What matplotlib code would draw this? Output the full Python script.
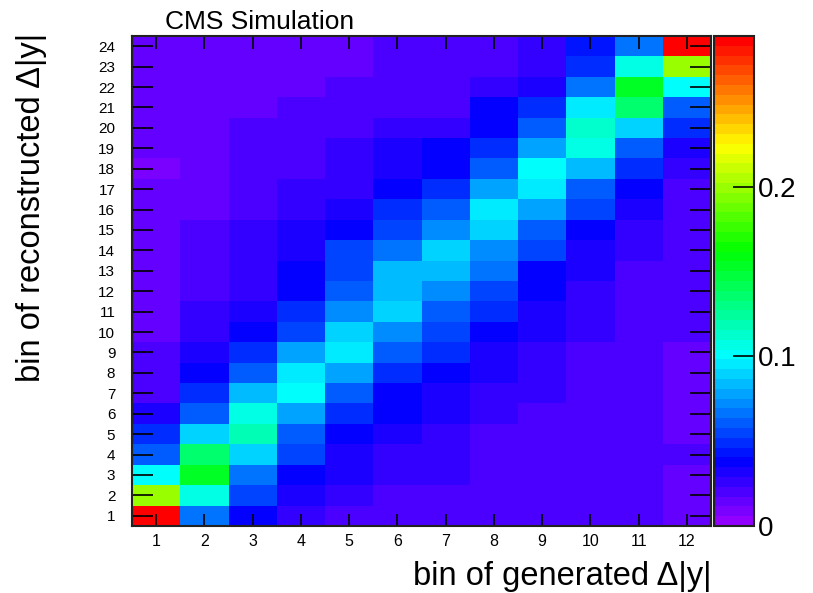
import colorsys
import numpy as np
import matplotlib
matplotlib.use("Agg")
import matplotlib.pyplot as plt
from matplotlib.colors import ListedColormap, Normalize

plt.rcParams['font.family'] = ['Liberation Sans', 'DejaVu Sans']

gen_bins = list(range(1, 13))
reco_bins = list(range(1, 25))
z_max = 0.289
cbar_ticks = [0.0, 0.1, 0.2]
cbar_labels = ["0", "0.1", "0.2"]

# Migration matrix values, one list per generated bin (column), reco bins 1..24
col1 = [0.289, 0.199, 0.100, 0.062, 0.047, 0.030, 0.023, 0.019, 0.018, 0.015, 0.0136, 0.0136,
        0.0136, 0.0136, 0.0136, 0.0136, 0.0136, 0.0095, 0.0136, 0.0136, 0.0136, 0.0136, 0.0136, 0.0136]
col2 = [0.069, 0.109, 0.154, 0.137, 0.088, 0.062, 0.047, 0.038, 0.030, 0.026, 0.026, 0.023,
        0.022, 0.022, 0.022, 0.016, 0.015, 0.015, 0.015, 0.014, 0.0136, 0.0136, 0.0136, 0.0136]
col3 = [0.038, 0.054, 0.069, 0.088, 0.121, 0.109, 0.083, 0.058, 0.047, 0.038, 0.030, 0.026,
        0.026, 0.026, 0.026, 0.023, 0.022, 0.020, 0.020, 0.019, 0.015, 0.014, 0.014, 0.014]
col4 = [0.026, 0.030, 0.038, 0.054, 0.062, 0.078, 0.100, 0.094, 0.078, 0.054, 0.047, 0.038,
        0.038, 0.030, 0.030, 0.026, 0.026, 0.022, 0.022, 0.019, 0.019, 0.015, 0.014, 0.014]
col5 = [0.023, 0.026, 0.030, 0.030, 0.038, 0.050, 0.062, 0.078, 0.094, 0.088, 0.073, 0.062,
        0.054, 0.054, 0.038, 0.030, 0.028, 0.026, 0.026, 0.023, 0.020, 0.019, 0.015, 0.015]
col6 = [0.020, 0.022, 0.026, 0.027, 0.030, 0.038, 0.038, 0.050, 0.062, 0.073, 0.088, 0.083,
        0.081, 0.069, 0.054, 0.047, 0.038, 0.034, 0.030, 0.026, 0.022, 0.022, 0.019, 0.018]
col7 = [0.022, 0.023, 0.026, 0.026, 0.028, 0.030, 0.034, 0.038, 0.050, 0.054, 0.062, 0.073,
        0.083, 0.088, 0.073, 0.062, 0.050, 0.038, 0.038, 0.026, 0.022, 0.022, 0.018, 0.018]
col8 = [0.018, 0.018, 0.022, 0.022, 0.022, 0.027, 0.028, 0.030, 0.031, 0.038, 0.047, 0.054,
        0.066, 0.073, 0.088, 0.096, 0.078, 0.062, 0.050, 0.038, 0.038, 0.026, 0.022, 0.022]
col9 = [0.018, 0.018, 0.018, 0.018, 0.022, 0.023, 0.026, 0.026, 0.027, 0.030, 0.030, 0.038,
        0.038, 0.054, 0.062, 0.078, 0.096, 0.100, 0.078, 0.062, 0.050, 0.034, 0.028, 0.025]
col10 = [0.018, 0.018, 0.018, 0.018, 0.022, 0.022, 0.022, 0.022, 0.022, 0.026, 0.027, 0.028,
         0.030, 0.030, 0.038, 0.054, 0.062, 0.083, 0.109, 0.113, 0.094, 0.069, 0.050, 0.042]
col11 = [0.018, 0.018, 0.018, 0.018, 0.018, 0.018, 0.018, 0.018, 0.018, 0.023, 0.023, 0.023,
         0.022, 0.026, 0.026, 0.030, 0.038, 0.050, 0.062, 0.088, 0.137, 0.154, 0.109, 0.069]
col12 = [0.016, 0.016, 0.016, 0.018, 0.013, 0.013, 0.016, 0.013, 0.016, 0.018, 0.018, 0.018,
         0.018, 0.018, 0.018, 0.022, 0.023, 0.026, 0.030, 0.050, 0.062, 0.100, 0.199, 0.289]

columns = [col1, col2, col3, col4, col5, col6, col7, col8, col9, col10, col11, col12]
Z = np.array(columns).T  # shape (24 reco, 12 gen)

# ROOT "pretty palette": 50 colours, hue 280 -> 0 in HLS
ncol = 50
pal = []
for i in range(ncol):
    hue = 280.0 - (i + 1) * (280.0 / ncol)
    r, g, b = colorsys.hls_to_rgb(hue / 360.0, 0.5, 1.0)
    pal.append((r, g, b))
cmap = ListedColormap(pal)
norm = Normalize(vmin=0.0, vmax=z_max)

W, H = 813, 593
fig = plt.figure(figsize=(W / 100, H / 100), dpi=100)
x0, x1, y0, y1 = 132, 711, 36, 526
ax = fig.add_axes([x0 / W, 1 - y1 / H, (x1 - x0) / W, (y1 - y0) / H])

xe = np.arange(0.5, len(gen_bins) + 1, 1.0)
ye = np.arange(0.5, len(reco_bins) + 1, 1.0)
mesh = ax.pcolormesh(xe, ye, Z, cmap=cmap, norm=norm, shading='flat')
ax.set_xlim(0.5, 12.5)
ax.set_ylim(0.5, 24.5)

ax.set_xticks(gen_bins)
ax.set_xticklabels([str(v) for v in gen_bins], fontsize=11.5)
ax.set_yticks(reco_bins)
ax.set_yticklabels([str(v) for v in reco_bins], fontsize=11)
ax.tick_params(axis='x', direction='in', length=9, width=1.2, top=True, bottom=True,
               pad=6, colors='black')
ax.tick_params(axis='y', direction='in', length=15, width=1.2, left=True, right=True,
               pad=12, colors='black')
for s in ax.spines.values():
    s.set_linewidth(1.5)
    s.set_color('#222222')

# colorbar
cx0, cx1 = 714, 754
cax = fig.add_axes([cx0 / W, 1 - y1 / H, (cx1 - cx0) / W, (y1 - y0) / H])
cb = fig.colorbar(mesh, cax=cax)
cb.set_ticks(cbar_ticks)
cb.set_ticklabels(cbar_labels)
cax.tick_params(axis='y', direction='in', length=15, width=1.2, labelsize=20, pad=3,
                right=True, left=False)
cb.outline.set_linewidth(1.5)
cb.outline.set_edgecolor('#222222')

# texts
fig.text(x1 / W, 1 - 585 / H, "bin of generated Δ|y|", ha='right', va='baseline', fontsize=23.5)
fig.text(40 / W, 1 - 33 / H, "bin of reconstructed Δ|y|", ha='right', va='baseline',
         rotation=90, rotation_mode='anchor', fontsize=23.5)
fig.text(165 / W, 1 - 29 / H, "CMS Simulation", ha='left', va='baseline', fontsize=19)

fig.savefig("out.png", dpi=100)
